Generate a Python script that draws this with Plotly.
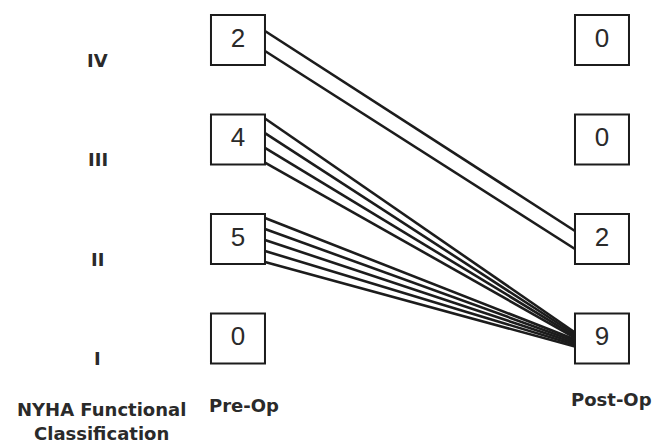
import plotly.graph_objects as go

# ---------------- data ----------------
classes = ["I", "II", "III", "IV"]
class_values = [1, 2, 3, 4]
pre_op_counts = [0, 5, 4, 2]
post_op_counts = [9, 2, 0, 0]
# patient transitions: from pre-op class -> post-op class, number of patients
trans_from = ["IV", "III", "II"]
trans_to = ["II", "I", "I"]
trans_n = [2, 4, 5]
column_labels = ["Pre-Op", "Post-Op"]
column_x = [0, 1]
axis_title = ["NYHA Functional", "Classification"]

# ---------------- layout constants ----------------
W, H = 669, 443
X_RANGE = [-0.6538, 1.1841]
Y_RANGE = [-0.05, 4.402]
PX_X = W / (X_RANGE[1] - X_RANGE[0])   # pixels per x unit
PX_Y = H / (Y_RANGE[1] - Y_RANGE[0])   # pixels per y unit
BOX_W_PX, BOX_H_PX = 54, 50
hw = BOX_W_PX / 2 / PX_X
hh = BOX_H_PX / 2 / PX_Y
INK = "#1c1c1c"
TXT = "#2a2a2a"

cls_val = dict(zip(classes, class_values))

fig = go.Figure()

# ---------------- transition lines ----------------
incoming = {}
for f, t, n in zip(trans_from, trans_to, trans_n):
    incoming.setdefault(t, []).append((cls_val[f], n))
for t in incoming:
    incoming[t].sort(key=lambda v: -v[0])

end_used = {t: 0 for t in incoming}
for f, t, n in zip(trans_from, trans_to, trans_n):
    y0 = cls_val[f]
    y1 = cls_val[t]
    m = sum(k for _, k in incoming[t])
    span_s = min(44, 20 * (n - 1))
    span_e = 18 if m <= 2 else 14
    xs, ys = [], []
    for i in range(n):
        off_s = (-span_s / 2 + (span_s / (n - 1)) * i) if n > 1 else 0
        j = end_used[t]
        off_e = (-span_e / 2 + (span_e / (m - 1)) * j) if m > 1 else 0
        end_used[t] += 1
        xs += [column_x[0] + hw, column_x[1] - hw, None]
        ys += [y0 - (off_s + 1) / PX_Y, y1 - (off_e + 1) / PX_Y, None]
    fig.add_trace(go.Scatter(x=xs, y=ys, mode="lines",
                             line=dict(color=INK, width=2.6),
                             hoverinfo="skip", showlegend=False))

# ---------------- boxes ----------------
for cx, counts in zip(column_x, [pre_op_counts, post_op_counts]):
    for yv, c in zip(class_values, counts):
        fig.add_shape(type="rect", xref="x", yref="y",
                      x0=cx - hw, x1=cx + hw, y0=yv - hh, y1=yv + hh,
                      line=dict(color=INK, width=2), fillcolor="white",
                      layer="below")
    fig.add_trace(go.Scatter(
        x=[cx] * len(class_values), y=class_values, mode="text",
        text=[str(c) for c in counts],
        textfont=dict(family="Liberation Sans, Arial", size=26, color=TXT),
        hoverinfo="skip", showlegend=False))

# ---------------- class labels ----------------
bold = dict(family="DejaVu Sans", size=18, color=TXT, weight="bold")
for c, yv in zip(classes, class_values):
    fig.add_annotation(x=98 / W, xref="paper", xanchor="center",
                       y=yv, yref="y", yanchor="middle", yshift=-20,
                       text=c, showarrow=False, font=bold)

# ---------------- bottom labels ----------------
fig.add_annotation(x=101 / W, xref="paper", xanchor="center",
                   y=1 - 409 / H, yref="paper", yanchor="middle",
                   text=axis_title[0], showarrow=False, font=bold)
fig.add_annotation(x=101 / W, xref="paper", xanchor="center",
                   y=1 - 433 / H, yref="paper", yanchor="middle",
                   text=axis_title[1], showarrow=False, font=bold)
fig.add_annotation(x=column_x[0], xref="x", xshift=6, xanchor="center",
                   y=1 - 405 / H, yref="paper", yanchor="middle",
                   text=column_labels[0], showarrow=False, font=bold)
fig.add_annotation(x=column_x[1], xref="x", xshift=10, xanchor="center",
                   y=1 - 399 / H, yref="paper", yanchor="middle",
                   text=column_labels[1], showarrow=False, font=bold)

fig.update_layout(
    width=W, height=H, margin=dict(l=0, r=0, t=0, b=0),
    paper_bgcolor="white", plot_bgcolor="white",
    xaxis=dict(range=X_RANGE, visible=False, fixedrange=True),
    yaxis=dict(range=Y_RANGE, visible=False, fixedrange=True),
    showlegend=False,
)

fig.write_html("out.html", config={"displayModeBar": False},
               post_script="document.body.style.margin='0';document.body.style.overflow='hidden';")
